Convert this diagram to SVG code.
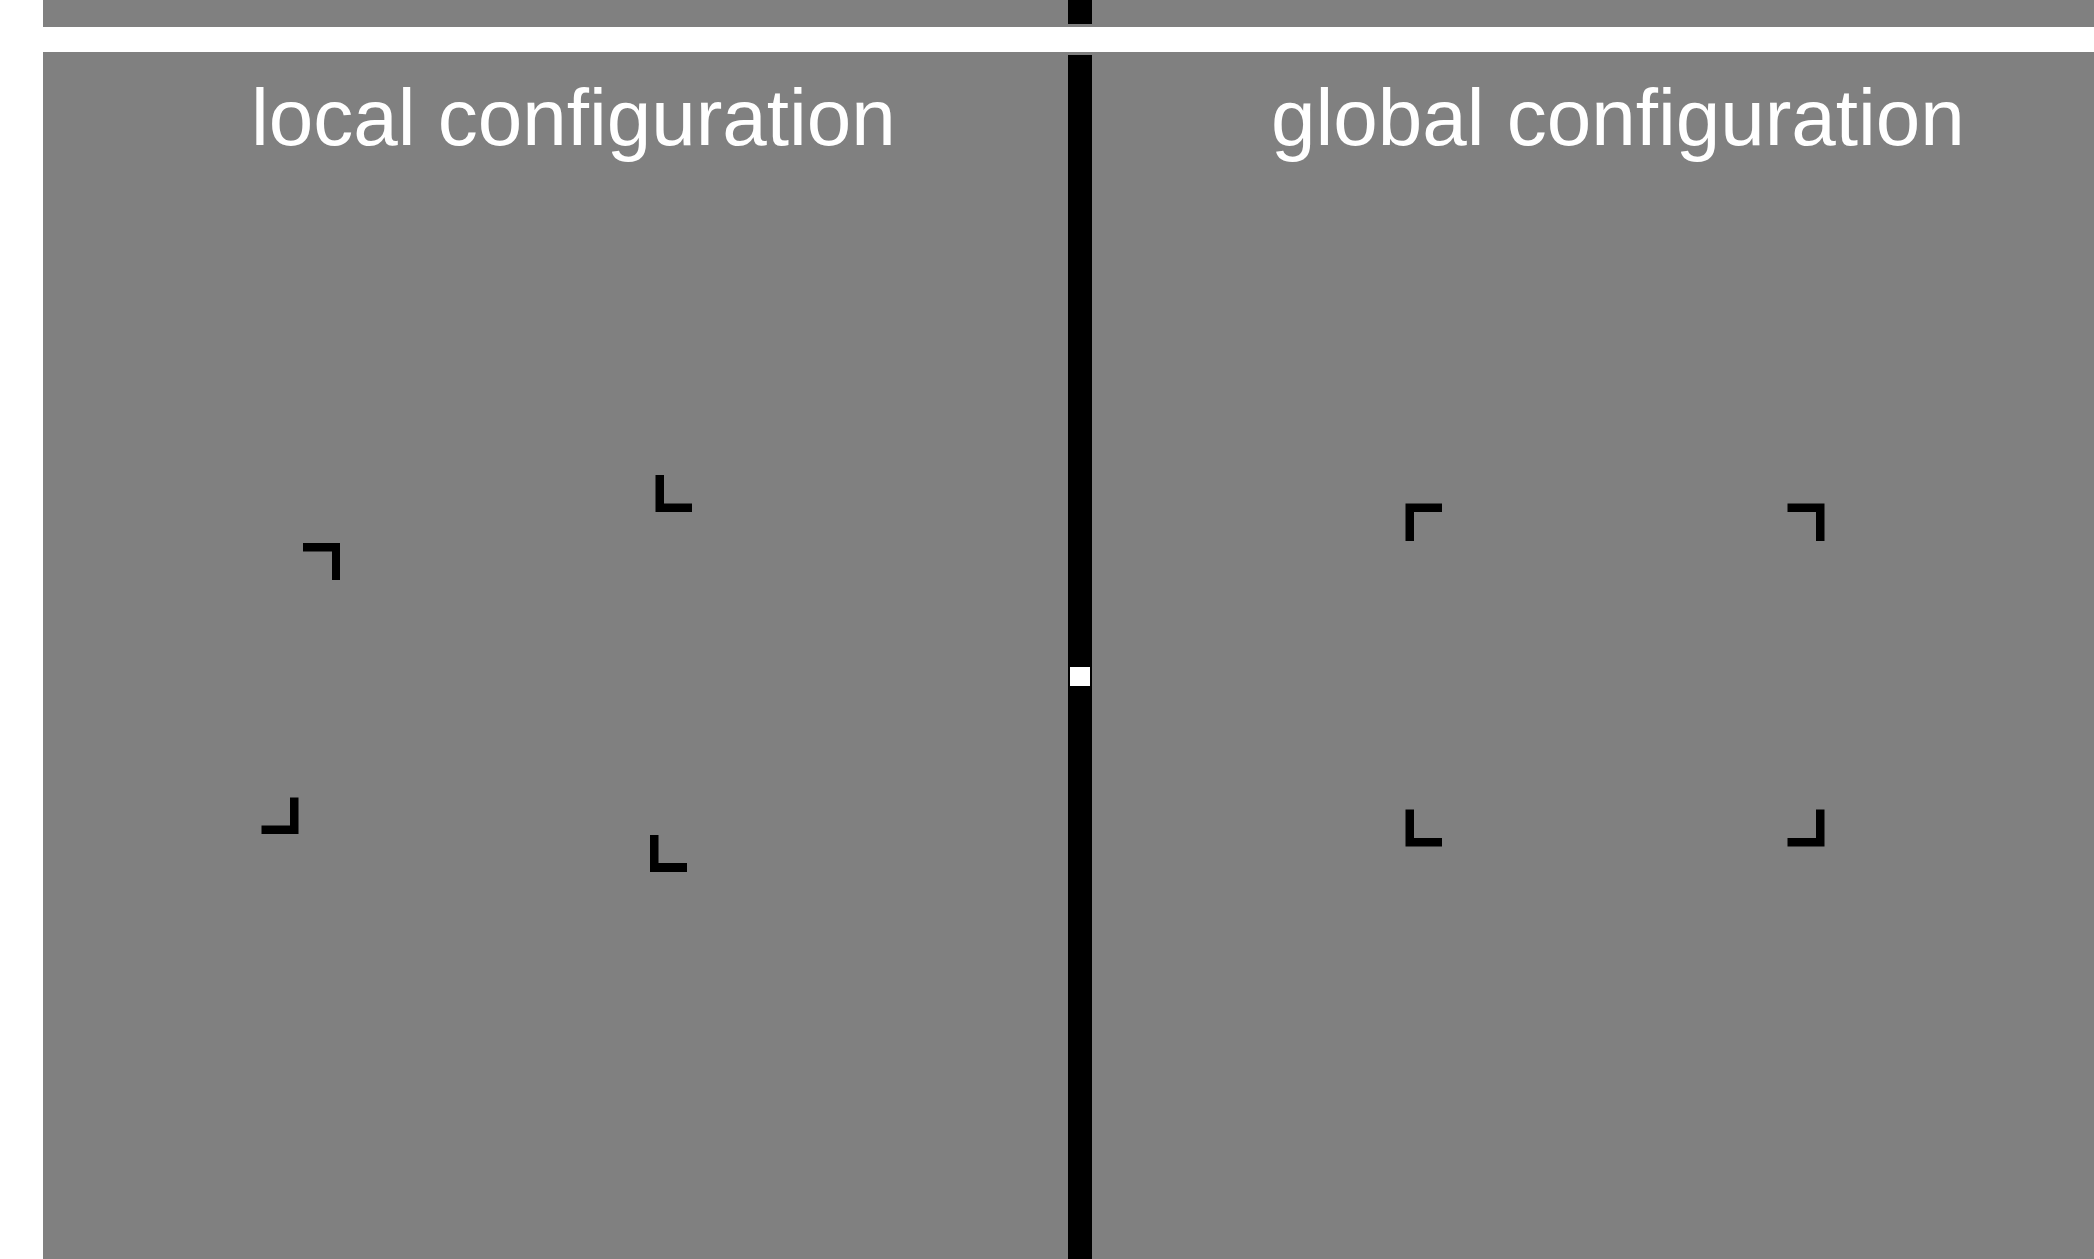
<svg xmlns="http://www.w3.org/2000/svg" width="2094" height="1259" viewBox="0 0 2094 1259">
<style>
.bg{fill:#808080}
.bar{fill:#000}
.t{font-family:"Liberation Sans",Arial,sans-serif;font-size:80px;fill:#fff}
.c{fill:#000}
</style>
<rect width="2094" height="1259" fill="#fff"/>
<g id="top-panel">
<rect class="bg" x="43" y="0" width="2051" height="27"/>
<rect class="bar" x="1068" y="0" width="24" height="24"/>
</g>
<g id="main-panel">
<rect class="bg" x="43" y="52" width="2051" height="1207"/>
<rect class="bar" x="1068" y="55" width="24" height="1204"/>
<rect id="fixation" x="1070" y="667" width="20" height="19" fill="#fff"/>
</g>
<g id="local">
<text class="t" x="251" y="145">local configuration</text>
<path class="c" d="M303 543H340V580H332V551.5H303Z"/>
<path class="c" d="M655.5 475H664V503.5H692V512H655.5Z"/>
<path class="c" d="M290 797.5H298.5V834H261.5V825.5H290Z"/>
<path class="c" d="M650 835H658.5V863H687V872H650Z"/>
</g>
<g id="global">
<text class="t" x="1271" y="145">global configuration</text>
<path class="c" d="M1405.5 503.5H1442V512H1414V541H1405.5Z"/>
<path class="c" d="M1787.5 503.5H1824.5V541H1816V512H1787.5Z"/>
<path class="c" d="M1405.5 809.5H1414V838H1442V846.5H1405.5Z"/>
<path class="c" d="M1816 809.5H1824.5V846.5H1787.5V838H1816Z"/>
</g>
<g id="connectors"></g>
</svg>
